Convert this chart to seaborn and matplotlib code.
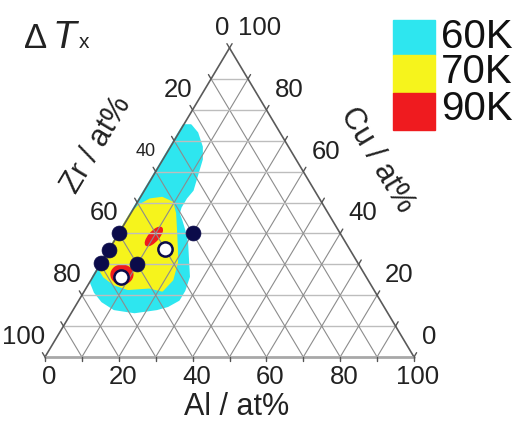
import numpy as np
import matplotlib
matplotlib.use("Agg")
import matplotlib.pyplot as plt
import seaborn as sns
from matplotlib.patches import Ellipse, Rectangle

# compositions in at% as (Al, Cu); Zr = 100 - Al - Cu
cyan_al = [0, 2, 5, 8.5, 10.5, 12, 13, 12.5, 12.5, 13, 15, 18, 20, 23, 26, 27, 27, 25, 22.5, 17, 11, 6.5, 3, 0.5, 0]
cyan_cu = [75, 75, 72.5, 68, 64, 58, 54, 51.5, 48.5, 46.5, 44, 40, 37, 31.5, 26, 21.5, 18.5, 16.5, 15.5, 14.5, 15.5, 18, 21, 24, 26]

yellow_al = [0, 1, 3, 6, 9.5, 12, 15, 18.5, 20.5, 22, 21, 17, 11.5, 7, 3, 0]
yellow_cu = [46, 49, 51, 51.5, 50, 46.5, 41, 34.5, 30.5, 25, 21.5, 22.5, 22, 23.5, 26, 29]

red_al = [10, 7.5]
red_cu = [39, 26.7]

glass_al = [0, 20, 0, 0, 10]
glass_cu = [40, 40, 34.5, 30.5, 30]

open_al = [15, 7.5]
open_cu = [35, 26]

tick_values = [0, 20, 40, 60, 80, 100]
legend_labels = ["60K", "70K", "90K"]
legend_colors = ["#2ee6ef", "#f6f41c", "#ef1b1f"]

NAVY = "#0b0b4a"
W, H = 524, 421

sns.set_theme(style="white")
plt.rcParams['font.family'] = ['Liberation Sans', 'DejaVu Sans']


def tern(al, cu):
    al = np.asarray(al, dtype=float)
    cu = np.asarray(cu, dtype=float)
    return al + cu / 2, cu


def px(x, y):
    return x / W, 1 - y / H


fig = plt.figure(figsize=(W / 100, H / 100), dpi=100)
ax = fig.add_axes([0, 0, 1, 1])
ax.set_xlim(-45 / 3.69, (W - 45) / 3.69)
ax.set_ylim((357 - H) / 3.09, 357 / 3.09)
ax.axis('off')

# regions of supercooled liquid range
cx, cy = tern(cyan_al, cyan_cu)
ax.fill(cx, cy, color=legend_colors[0], lw=1.5, joinstyle='round', zorder=1)
yx, yy = tern(yellow_al, yellow_cu)
ax.fill(yx, yy, color=legend_colors[1], lw=1.5, joinstyle='round', zorder=1.1)
rx, ry = tern(red_al, red_cu)
ax.add_patch(Ellipse((rx[0], ry[0]), 7.0, 2.7, angle=55, color=legend_colors[2], zorder=1.2))
ax.add_patch(Ellipse((rx[1], ry[1]), 5.9, 6.1, angle=0, color=legend_colors[2], zorder=1.2))

# grid
for k in range(10, 100, 10):
    x, y = tern([0, 100 - k], [k, k])
    ax.plot(x, y, color='#bdbdbd', lw=1.0, zorder=2)
    x, y = tern([k, k], [0, 100 - k])
    ax.plot(x, y, color='#8c8c8c', lw=0.8, zorder=2)
    x, y = tern([100 - k, 0], [0, 100 - k])
    ax.plot(x, y, color='#8c8c8c', lw=0.8, zorder=2)

# frame
x, y = tern([0, 0], [0, 100])
ax.plot(x, y, color='#5a5a5a', lw=1.2, zorder=3)
x, y = tern([100, 0], [0, 100])
ax.plot(x, y, color='#5a5a5a', lw=1.2, zorder=3)
x, y = tern([0, 100], [0, 0])
ax.plot(x, y, color='#a8a8a8', lw=2.0, zorder=3)

# ticks
for k in range(0, 101, 10):
    x, y = tern([k, k], [0, 0])
    ax.plot(x, [0, -1.4], color='#555555', lw=1.0, zorder=3)
    x, y = tern([0, -1.4], [100 - k, 100 - k + 1.4])
    ax.plot(x, y, color='#555555', lw=1.0, zorder=3)
    x, y = tern([100 - k, 100 - k], [k, k + 1.4])
    ax.plot(x, y, color='#555555', lw=1.0, zorder=3)

# tick labels
for v in tick_values:
    x, y = tern(v, 0)
    ax.annotate(str(v), (x, y), xytext=(4, -20), textcoords='offset pixels',
                ha='center', va='center', fontsize=18.5, color='#222222')
    x, y = tern(0, 100 - v)
    ax.annotate(str(v), (x, y), xytext=(0, 20), textcoords='offset pixels',
                ha='right', va='center', fontsize=13 if v == 40 else 18.5, color='#222222')
    x, y = tern(100 - v, v)
    ax.annotate(str(v), (x, y), xytext=(8, 20), textcoords='offset pixels',
                ha='left', va='center', fontsize=18.5, color='#222222')

# alloys
gx, gy = tern(glass_al, glass_cu)
sns.scatterplot(x=gx, y=gy, s=115, color=NAVY, edgecolor=NAVY, linewidth=0.5,
                zorder=5, ax=ax, legend=False)
ox, oy = tern(open_al, open_cu)
sns.scatterplot(x=ox, y=oy, s=105, color='white', edgecolor=NAVY, linewidth=1.8,
                zorder=6, ax=ax, legend=False)

# axis titles
fig.text(*px(237, 407), "Al / at%", ha='center', va='center', fontsize=22, color='#222222')
fig.text(*px(97, 145), "Zr / at%", ha='center', va='center', rotation=59,
         fontsize=22, color='#222222')
fig.text(*px(377, 160), "Cu / at%", ha='center', va='center', rotation=-59,
         fontsize=22, color='#222222')

# ΔTx
fig.text(*px(24, 48), "Δ", ha='left', va='baseline', fontsize=25, color='#222222')
fig.text(*px(52, 48), "T", ha='left', va='baseline', fontsize=28, style='italic', color='#222222')
fig.text(*px(79, 48), "x", ha='left', va='baseline', fontsize=15, color='#222222')

# legend
box_top = [20, 55, 93]
box_bot = [55, 93, 130]
base = [48, 83, 120]
for lab, col, t, b, bl in zip(legend_labels, legend_colors, box_top, box_bot, base):
    x0, y0 = px(393, b)
    fig.patches.append(Rectangle((x0, y0), 42 / W, (b - t) / H, transform=fig.transFigure,
                                 color=col, figure=fig))
    fig.text(*px(441, bl), lab, ha='left', va='baseline', fontsize=29, color='#111111')

fig.savefig("out.png", dpi=100)
